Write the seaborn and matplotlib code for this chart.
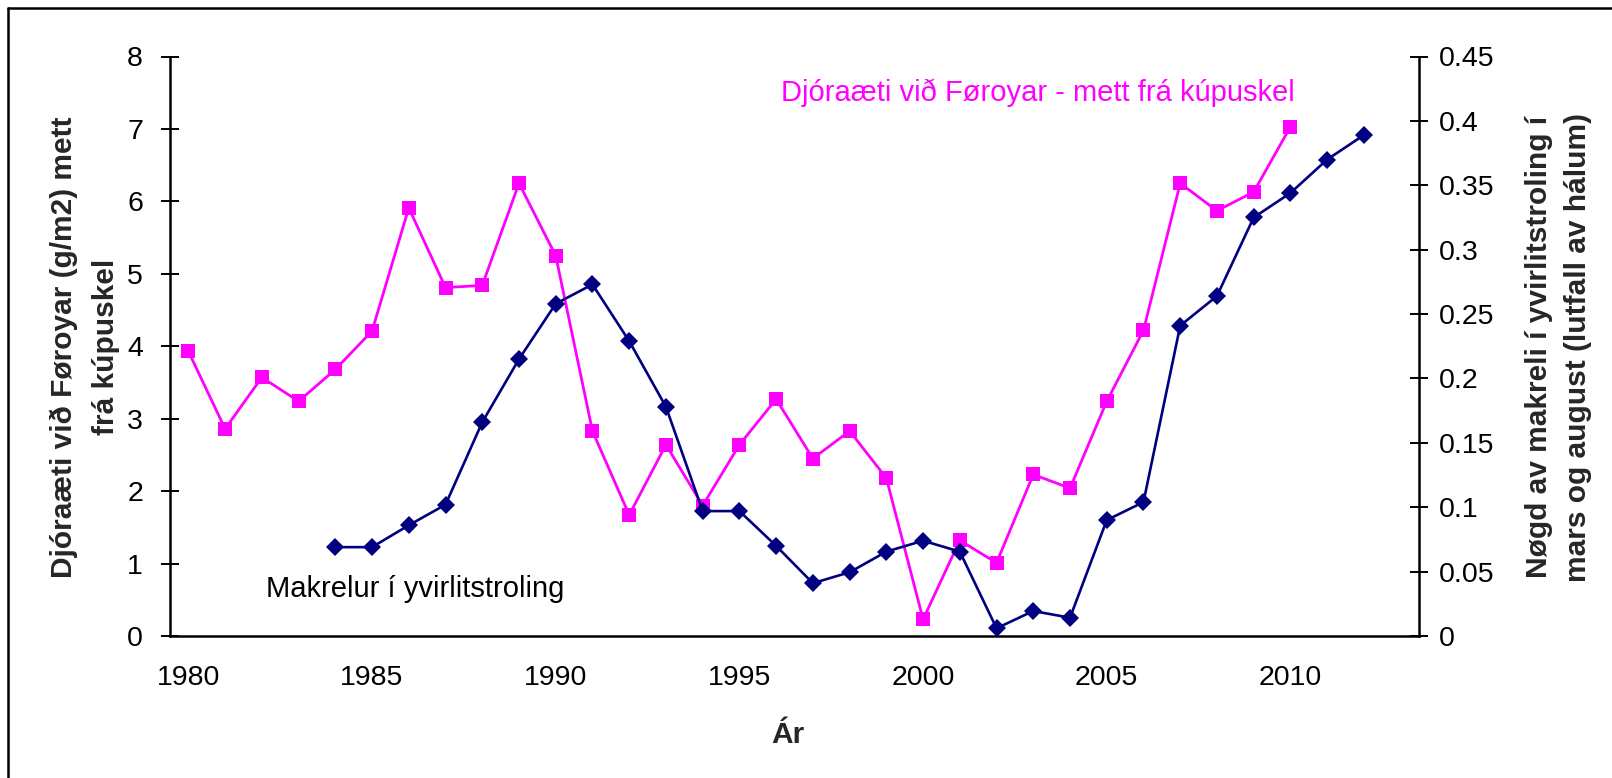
import numpy as np
import matplotlib
matplotlib.use("Agg")
import matplotlib.pyplot as plt
from matplotlib.lines import Line2D
from matplotlib.ticker import FixedLocator, FuncFormatter
import seaborn as sns

# ---- data ----
pink_years = list(range(1980, 2011))
pink_values = [3.93, 2.86, 3.57, 3.24, 3.68, 4.21, 5.91, 4.81, 4.84, 6.25,
               5.25, 2.83, 1.67, 2.64, 1.80, 2.64, 3.27, 2.45, 2.83, 2.18,
               0.23, 1.32, 1.01, 2.23, 2.04, 3.24, 4.22, 6.25, 5.87, 6.13,
               7.03]
blue_years = list(range(1984, 2013))
blue_values = [0.069, 0.069, 0.086, 0.102, 0.166, 0.215, 0.258, 0.273, 0.229,
               0.178, 0.097, 0.097, 0.070, 0.041, 0.0495, 0.0655, 0.074, 0.0655,
               0.006, 0.0194, 0.0142, 0.090, 0.104, 0.241, 0.264, 0.325, 0.344,
               0.370, 0.389]
x_labels = [1980, 1985, 1990, 1995, 2000, 2005, 2010]
left_ticks = [0, 1, 2, 3, 4, 5, 6, 7, 8]
right_ticks = [0, 0.05, 0.1, 0.15, 0.2, 0.25, 0.3, 0.35, 0.4, 0.45]

left_label_lines = ["Djóraæti við Føroyar (g/m2) mett", "frá kúpuskel"]
right_label_lines = ["Nøgd av makreli í yvirlitstroling í", "mars og august (lutfall av hálum)"]
x_label = "Ár"
pink_text = "Djóraæti við Føroyar - mett frá kúpuskel"
blue_text = "Makrelur í yvirlitstroling"

PINK = "#FF00FF"
NAVY = "#000080"

sns.set_style("white")
plt.rcParams["font.family"] = ["Liberation Sans", "DejaVu Sans"]

W, H = 1612, 778
fig = plt.figure(figsize=(W / 100, H / 100), dpi=100)
L, R, T, B = 170, 1419, 56.5, 636
ax = fig.add_axes([L / W, 1 - B / H, (R - L) / W, (B - T) / H])
ax2 = ax.twinx()

sns.lineplot(x=pink_years, y=pink_values, ax=ax, color=PINK, linewidth=2.0,
             marker="s", markersize=10.5, markeredgewidth=0, markerfacecolor=PINK,
             zorder=3)
sns.lineplot(x=blue_years, y=blue_values, ax=ax2, color=NAVY, linewidth=1.9,
             marker="D", markersize=8.8, markeredgewidth=0, markerfacecolor=NAVY,
             zorder=3)

ax.set_xlim(1979.5, 2013.5)
ax.set_ylim(0, 8)
ax2.set_ylim(0, 0.45)

tick_fs = 20.5
lab_fs = 21.5

# x axis: labels at category centres, tick marks at category boundaries
ax.xaxis.set_major_locator(FixedLocator(x_labels))
ax.xaxis.set_minor_locator(FixedLocator([v - 0.5 for v in x_labels]))
ax.set_xticklabels([str(v) for v in x_labels])
ax.tick_params(axis="x", which="major", length=0, pad=21, labelsize=tick_fs, colors="black")
ax.tick_params(axis="x", which="minor", direction="inout", length=13, width=1.4, color="black")

ax.set_yticks(left_ticks)
ax.set_yticklabels([str(v) for v in left_ticks])
ax.tick_params(axis="y", which="major", direction="inout", length=13, width=1.4,
               pad=13, labelsize=tick_fs, colors="black", left=True)

ax2.set_yticks(right_ticks)
ax2.yaxis.set_major_formatter(FuncFormatter(lambda v, p: f"{v:g}"))
ax2.tick_params(axis="y", which="major", direction="inout", length=13, width=1.4,
                pad=8, labelsize=tick_fs, colors="black", right=True)

for a in (ax, ax2):
    for s in a.spines.values():
        s.set_visible(False)
    a.grid(False)
    a.set_facecolor("none")
ax.spines["left"].set_visible(True)
ax.spines["bottom"].set_visible(True)
ax2.spines["right"].set_visible(True)
for s in (ax.spines["left"], ax.spines["bottom"], ax2.spines["right"]):
    s.set_color("black")
    s.set_linewidth(1.8)

ax.set_xlabel(x_label, fontsize=lab_fs, fontweight="bold")
ax.xaxis.set_label_coords((788 - L) / (R - L), (B - 735) / (B - T))
ax.xaxis.label.set_va("center")
ax.set_ylabel("")
ax2.set_ylabel("")

# axis titles, each line centred as in the original
for txt, xc in zip(left_label_lines, [64, 106]):
    fig.text(xc / W, 1 - 347 / H, txt, rotation=90, ha="center", va="center",
             fontsize=lab_fs, fontweight="bold")
for txt, xc in zip(right_label_lines, [1539, 1578]):
    fig.text(xc / W, 1 - 347 / H, txt, rotation=90, ha="center", va="center",
             fontsize=lab_fs, fontweight="bold")

ax.text((781 - L) / (R - L), (B - 92.5) / (B - T), pink_text, color=PINK,
        fontsize=21, ha="left", va="center", transform=ax.transAxes)
ax.text((266 - L) / (R - L), (B - 589) / (B - T), blue_text, color="black",
        fontsize=21, ha="left", va="center", transform=ax.transAxes)

# chart border (left and top edges visible)
fig.add_artist(Line2D([8 / W, 8 / W], [0, 1 - 8 / H], transform=fig.transFigure,
                      color="black", linewidth=1.8))
fig.add_artist(Line2D([8 / W, 1], [1 - 8 / H, 1 - 8 / H], transform=fig.transFigure,
                      color="black", linewidth=1.8))

fig.savefig("out.png", dpi=100, facecolor="white")
